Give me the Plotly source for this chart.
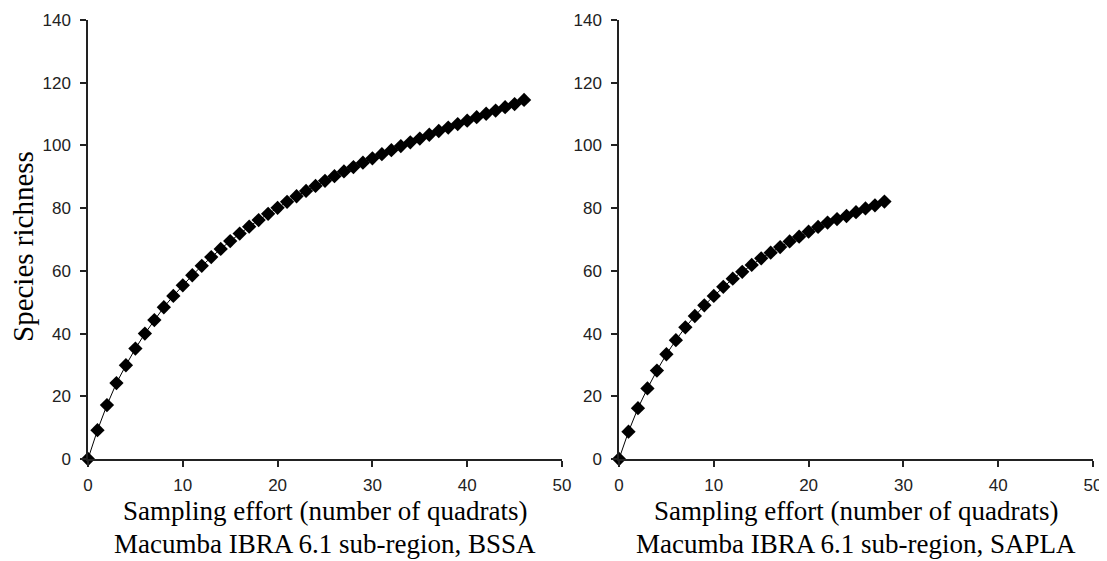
import plotly.graph_objects as go

# Data
effort_bssa = list(range(0, 47))
richness_bssa = [0, 9.2, 17.2, 24.2, 29.9, 35.2, 40.0, 44.3, 48.4, 52.0, 55.4, 58.6, 61.6,
                 64.4, 67.0, 69.5, 71.9, 74.1, 76.2, 78.2, 80.1, 82.0, 83.8, 85.5, 87.1,
                 88.7, 90.2, 91.7, 93.1, 94.5, 95.9, 97.2, 98.5, 99.8, 101.0, 102.2, 103.4,
                 104.6, 105.7, 106.8, 107.9, 109.0, 110.1, 111.1, 112.2, 113.2, 114.5]
effort_sapla = list(range(0, 29))
richness_sapla = [0, 8.7, 16.2, 22.5, 28.2, 33.4, 37.9, 42.0, 45.6, 49.0, 52.0, 54.9, 57.5,
                  59.7, 61.9, 64.0, 65.8, 67.6, 69.4, 70.9, 72.5, 74.0, 75.4, 76.5, 77.5,
                  78.7, 79.9, 80.9, 82.1]
x_ticks = [0, 10, 20, 30, 40, 50]
y_ticks = [0, 20, 40, 60, 80, 100, 120, 140]
x_title = "Sampling effort (number of quadrats)"
sub_titles = ["Macumba IBRA 6.1 sub-region, BSSA", "Macumba IBRA 6.1 sub-region, SAPLA"]
y_title = "Species richness"

W, H = 1107, 561
OFF = 8  # page body margin offset


def fx(p):
    return (p - OFF) / W


def fy(p):
    return (H - (p - OFF)) / H


fig = go.Figure()

marker = dict(symbol="diamond", size=11, color="black")
line = dict(color="black", width=1)
fig.add_trace(go.Scatter(x=effort_bssa, y=richness_bssa, mode="lines+markers",
                         marker=marker, line=line, xaxis="x", yaxis="y", showlegend=False,
                         cliponaxis=False))
fig.add_trace(go.Scatter(x=effort_sapla, y=richness_sapla, mode="lines+markers",
                         marker=marker, line=line, xaxis="x2", yaxis="y2", showlegend=False,
                         cliponaxis=False))

tickfont = dict(family="Liberation Sans, Arial", size=17, color="#222")
axcommon = dict(showgrid=False, zeroline=False, showline=True, linecolor="#222", linewidth=1.5,
                ticks="outside", ticklen=6, tickwidth=1.5, tickcolor="#222", tickfont=tickfont,
                automargin=False)

ydom = [fy(459), fy(20)]
fig.update_layout(
    width=W, height=H, margin=dict(l=0, r=0, t=0, b=0, pad=0, autoexpand=False),
    paper_bgcolor="white", plot_bgcolor="white",
    xaxis=dict(domain=[fx(88), fx(562)], range=[0, 50], tickvals=x_ticks, anchor="y",
               ticklabelstandoff=4, **axcommon),
    yaxis=dict(domain=ydom, range=[0, 140], tickvals=y_ticks, anchor="x",
               ticklabelstandoff=6, **axcommon),
    xaxis2=dict(domain=[fx(619), fx(1093)], range=[0, 50], tickvals=x_ticks, anchor="y2",
                ticklabelstandoff=4, **axcommon),
    yaxis2=dict(domain=ydom, range=[0, 140], tickvals=y_ticks, anchor="x2",
                ticklabelstandoff=6, **axcommon),
)

tfont = dict(family="Liberation Serif, Times New Roman", size=27, color="black")
centers = [fx((88 + 562) / 2), fx((619 + 1093) / 2)]
for cx, st in zip(centers, sub_titles):
    fig.add_annotation(x=cx, y=fy(511), xref="paper", yref="paper", text=x_title,
                       showarrow=False, font=tfont, xanchor="center", yanchor="middle")
    fig.add_annotation(x=cx, y=fy(544), xref="paper", yref="paper", text=st,
                       showarrow=False, font=tfont, xanchor="center", yanchor="middle")
fig.add_annotation(x=fx(23), y=fy(247), xref="paper", yref="paper", text=y_title,
                   showarrow=False, font=dict(tfont, size=29), textangle=-90,
                   xanchor="center", yanchor="middle")

fig.write_html("out.html")
